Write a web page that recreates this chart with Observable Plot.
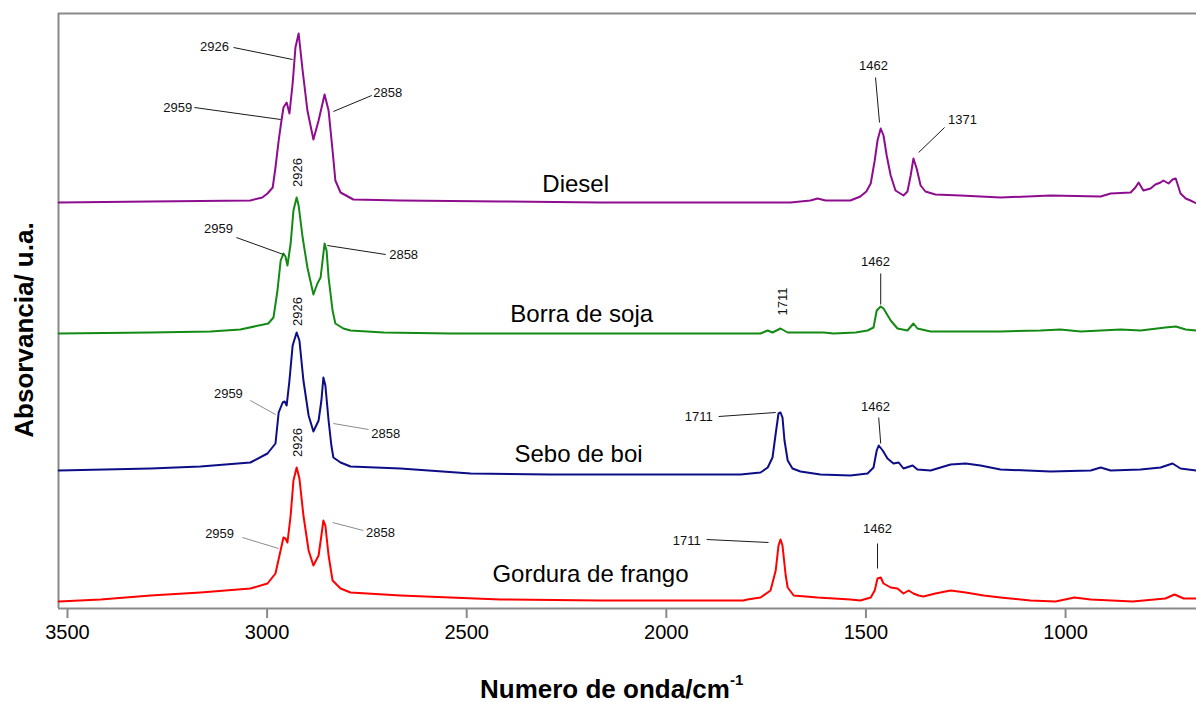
<!DOCTYPE html>
<html>
<head>
<meta charset="utf-8">
<script src="https://cdn.jsdelivr.net/npm/d3@7"></script>
<script src="https://cdn.jsdelivr.net/npm/@observablehq/plot@0.6"></script>
<style>
  html, body { margin: 0; padding: 0; background: #fff; }
  #chart svg { display: block; }
</style>
</head>
<body>
<div id="chart"></div>
<script>
// ---- Data: [wavenumber (cm-1), absorbance (a.u., offset per series)] ----
const diesel = [
  [3522,81.2],[3292,81.4],[3042,81.6],[3012,82.2],[2999,83.0],[2986,84.2],[2979,88.2],[2971,93.6],
  [2964,97.6],[2959,100.2],[2951,101.2],[2944,99.0],[2936,105.0],[2929,112.2],[2921,115.0],[2911,107.6],
  [2899,99.6],[2884,93.8],[2871,97.6],[2856,102.8],[2846,99.6],[2836,91.6],[2829,85.6],[2816,83.2],
  [2784,81.8],[2666,81.6],[2415,81.4],[2165,81.2],[1914,81.2],[1689,81.2],[1639,81.6],[1621,82.0],
  [1601,81.6],[1539,81.6],[1514,82.4],[1499,83.4],[1488,85.0],[1478,89.6],[1471,93.6],[1463,96.0],
  [1456,94.6],[1448,90.6],[1438,86.6],[1426,83.6],[1406,82.6],[1396,83.4],[1388,86.6],[1381,90.0],
  [1373,88.0],[1363,84.6],[1351,83.4],[1326,82.8],[1263,82.6],[1163,82.2],[1038,82.6],[912,82.4],
  [887,83.0],[837,83.2],[825,84.2],[817,85.2],[805,83.6],[787,84.0],[775,84.8],[762,85.2],[755,85.6],
  [742,85.0],[732,85.8],[724,86.0],[712,83.0],[699,82.0],[687,81.6],[672,81.0]
];
const borraSoja = [
  [3522,55.0],[3292,55.2],[3142,55.4],[3067,55.8],[2997,57.0],[2984,58.2],[2974,63.6],[2966,69.6],
  [2959,71.0],[2954,70.4],[2949,68.6],[2941,73.0],[2934,79.6],[2926,82.2],[2921,80.6],[2911,74.2],
  [2899,68.2],[2884,62.8],[2874,65.0],[2866,66.2],[2856,73.0],[2851,71.6],[2846,66.2],[2836,59.6],
  [2829,57.0],[2809,56.0],[2791,55.6],[2708,55.2],[2541,55.0],[2165,55.0],[1764,55.0],[1746,55.6],
  [1734,55.2],[1714,56.0],[1696,55.2],[1606,55.2],[1581,55.0],[1526,55.2],[1496,55.6],[1481,56.2],
  [1473,59.6],[1463,60.4],[1456,60.0],[1438,57.6],[1421,56.0],[1396,55.6],[1381,57.0],[1371,56.0],
  [1338,55.4],[1288,55.4],[1163,55.4],[1063,55.6],[1013,55.8],[962,55.4],[912,55.6],[862,55.8],
  [812,55.6],[750,56.2],[724,56.4],[699,55.8],[672,55.6]
];
const seboBoi = [
  [3522,27.6],[3292,28.0],[3167,28.4],[3042,29.2],[2999,31.0],[2979,33.0],[2971,39.2],[2961,41.2],
  [2956,41.4],[2951,40.6],[2944,45.6],[2936,52.6],[2926,55.2],[2919,53.6],[2909,45.6],[2896,38.6],
  [2884,35.4],[2871,37.6],[2864,41.6],[2859,46.2],[2854,44.6],[2846,37.6],[2839,32.6],[2834,30.2],
  [2816,29.2],[2791,28.4],[2666,28.0],[2490,27.0],[2290,26.8],[1814,26.8],[1764,27.2],[1746,28.2],
  [1734,30.2],[1726,35.0],[1719,39.0],[1714,39.2],[1709,38.2],[1704,33.6],[1696,29.6],[1684,28.0],
  [1664,27.4],[1614,26.8],[1539,26.6],[1496,27.0],[1481,28.2],[1473,31.6],[1468,32.6],[1458,31.6],
  [1446,30.0],[1431,29.0],[1418,29.2],[1406,28.0],[1383,28.6],[1371,27.8],[1338,27.6],[1313,28.2],
  [1288,28.8],[1250,29.0],[1213,28.6],[1163,27.8],[1038,27.4],[937,27.6],[912,28.2],[887,27.6],
  [812,27.8],[762,28.2],[732,29.0],[712,28.0],[672,27.6]
];
const gorduraFrango = [
  [3522,1.4],[3417,1.8],[3292,2.6],[3167,3.2],[3042,4.0],[2999,5.0],[2979,7.0],[2969,10.6],
  [2959,14.2],[2954,14.0],[2949,13.2],[2941,18.6],[2934,25.6],[2926,28.2],[2919,26.0],[2909,18.6],
  [2896,11.6],[2884,8.6],[2871,10.6],[2864,14.6],[2859,17.6],[2854,16.6],[2846,10.6],[2836,5.6],
  [2816,4.0],[2791,3.2],[2666,2.6],[2541,2.2],[2415,1.8],[2165,1.6],[1807,1.6],[1797,1.8],
  [1764,2.2],[1739,3.6],[1726,7.6],[1719,12.6],[1714,13.8],[1709,12.6],[1701,6.6],[1696,4.2],
  [1681,2.6],[1621,2.2],[1539,1.8],[1514,1.6],[1488,2.2],[1478,3.6],[1471,6.0],[1463,6.2],
  [1456,5.0],[1438,4.2],[1421,4.0],[1406,3.0],[1393,3.6],[1381,3.0],[1368,2.6],[1356,2.4],
  [1326,3.0],[1288,3.6],[1250,3.2],[1205,2.6],[1163,2.2],[1088,1.6],[1025,1.4],[978,2.2],
  [937,1.8],[832,1.4],[750,2.0],[727,2.8],[704,2.0],[672,2.0]
];

const seriesNames  = ["Diesel", "Borra de soja", "Sebo de boi", "Gordura de frango"];
const seriesColors = ["#8e0d8e", "#138a13", "#0d0d88", "#ff0000"];
const seriesData   = [diesel, borraSoja, seboBoi, gorduraFrango];
// series name label anchor positions [wavenumber, absorbance]
const seriesLabelPos = [[2227,84.8],[2212,58.9],[2220,30.9],[2190,6.9]];

// Peak labels: text, wavenumber, absorbance, rotation
const peakLabels = [
  {t:"2926", x:3132, y:112.4, r:0}, {t:"2959", x:3224, y:100.2, r:0}, {t:"2858", x:2698, y:103.2, r:0},
  {t:"1462", x:1481, y:108.6, r:0}, {t:"1371", x:1258, y:97.8, r:0},
  {t:"2926", x:2924, y:87.2, r:-90}, {t:"2959", x:3122, y:76.0, r:0}, {t:"2858", x:2658, y:70.8, r:0},
  {t:"1711", x:1709, y:61.4, r:-90}, {t:"1462", x:1476, y:69.4, r:0},
  {t:"2926", x:2924, y:59.4, r:-90}, {t:"2959", x:3097, y:43.0, r:0}, {t:"2858", x:2703, y:35.0, r:0},
  {t:"1711", x:1919, y:38.4, r:0}, {t:"1462", x:1476, y:40.4, r:0},
  {t:"2926", x:2924, y:33.2, r:-90}, {t:"2959", x:3119, y:15.0, r:0}, {t:"2858", x:2716, y:15.2, r:0},
  {t:"1711", x:1949, y:13.6, r:0}, {t:"1462", x:1471, y:16.0, r:0}
];
// Leader lines from label to peak
const leaders = [
  {x1:3084,y1:112.2,x2:2936,y2:109.8,c:"dark"}, {x1:3182,y1:100.2,x2:2966,y2:97.8,c:"dark"},
  {x1:2738,y1:102.6,x2:2834,y2:99.4,c:"dark"},  {x1:1476,y1:106.2,x2:1466,y2:97.2,c:"dark"},
  {x1:1303,y1:96.2,x2:1368,y2:91.2,c:"dark"},
  {x1:3077,y1:74.2,x2:2959,y2:70.8,c:"dark"},   {x1:2703,y1:70.8,x2:2849,y2:72.6,c:"dark"},
  {x1:1463,y1:67.0,x2:1463,y2:60.8,c:"dark"},
  {x1:3042,y1:41.6,x2:2979,y2:38.8,c:"gray"},   {x1:2746,y1:35.8,x2:2834,y2:37.0,c:"gray"},
  {x1:1869,y1:38.4,x2:1726,y2:39.2,c:"dark"},   {x1:1468,y1:38.2,x2:1463,y2:33.0,c:"dark"},
  {x1:3062,y1:14.2,x2:2971,y2:12.0,c:"gray"},   {x1:2759,y1:15.6,x2:2836,y2:17.2,c:"gray"},
  {x1:1899,y1:13.8,x2:1744,y2:13.2,c:"dark"},   {x1:1471,y1:13.0,x2:1471,y2:8.0,c:"dark"}
];
const xTicks = [3500, 3000, 2500, 2000, 1500, 1000];
const xDomain = [3522.5, 672];
const yDomain = [0, 119];
const xTitle = "Numero de onda/cm";
const xTitleSup = "-1";
const yTitle = "Absorvancia/ u.a.";

// ---- Build rows ----
const rows = [];
seriesData.forEach((arr, i) => arr.forEach(([x, y]) => rows.push({series: seriesNames[i], x, y})));
const nameRows = seriesNames.map((n, i) => ({n, x: seriesLabelPos[i][0], y: seriesLabelPos[i][1]}));
const font = "'Liberation Sans', Arial, Helvetica, sans-serif";

const chart = Plot.plot({
  width: 1196,
  height: 702,
  marginTop: 13,
  marginBottom: 94,
  marginLeft: 58,
  marginRight: 0,
  style: {fontFamily: font, background: "#fff", overflow: "visible"},
  x: {domain: xDomain, axis: null},
  y: {domain: yDomain, axis: null},
  color: {domain: seriesNames, range: seriesColors},
  marks: [
    Plot.ruleY([yDomain[1]], {stroke: "#8a8a8a", strokeWidth: 2}),
    Plot.ruleX([xDomain[0]], {stroke: "#8a8a8a", strokeWidth: 2}),
    Plot.line(rows, {x: "x", y: "y", z: "series", stroke: "series", strokeWidth: 2, curve: "linear"}),
    Plot.link(leaders, {x1: "x1", y1: "y1", x2: "x2", y2: "y2",
      stroke: d => d.c === "gray" ? "#8c8c8c" : "#1a1a1a", strokeWidth: 1}),
    Plot.text(peakLabels.filter(d => d.r === 0), {x: "x", y: "y", text: "t", fontSize: 13, fill: "#111"}),
    Plot.text(peakLabels.filter(d => d.r !== 0), {x: "x", y: "y", text: "t", fontSize: 13, fill: "#111", rotate: -90}),
    Plot.text(nameRows, {x: "x", y: "y", text: "n", fontSize: 24, fill: "#000"}),
    Plot.ruleY([yDomain[0]], {stroke: "#8a8a8a", strokeWidth: 2}),
    Plot.axisX({ticks: xTicks, tickSize: 10, tickPadding: 6, stroke: "#8a8a8a", strokeWidth: 2,
      fill: "#000", fontSize: 20, label: null, tickFormat: d => String(d)})
  ]
});

const svg = d3.select(chart);
// X axis title with superscript
const xt = svg.append("text")
  .attr("x", 480).attr("y", 698)
  .attr("text-anchor", "start")
  .attr("font-family", font).attr("font-weight", "bold").attr("font-size", 26).attr("fill", "#000");
xt.append("tspan").text(xTitle);
xt.append("tspan").attr("font-size", 15).attr("dy", -13).text(xTitleSup);
// Y axis title
svg.append("text")
  .attr("transform", "translate(33,330) rotate(-90)")
  .attr("text-anchor", "middle")
  .attr("font-family", font).attr("font-weight", "bold").attr("font-size", 26).attr("fill", "#000")
  .text(yTitle);

document.getElementById("chart").appendChild(chart);
</script>
</body>
</html>
